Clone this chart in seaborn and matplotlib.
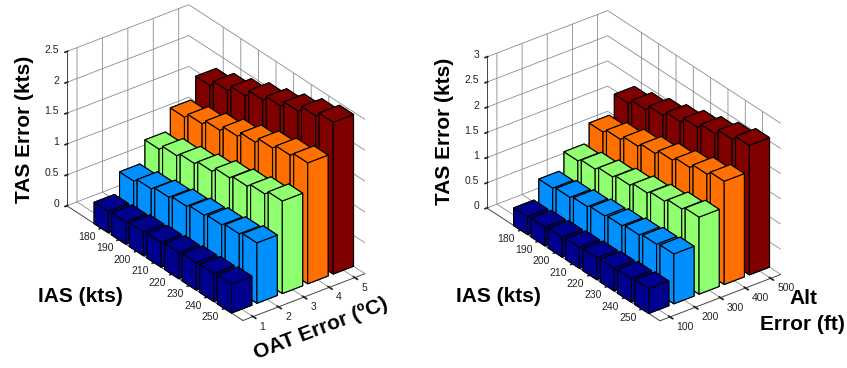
import numpy as np
import matplotlib
matplotlib.use("Agg")
import matplotlib.pyplot as plt
import seaborn as sns

ias_labels = ["180", "190", "200", "210", "220", "230", "240", "250"]
oat_labels = ["1", "2", "3", "4", "5"]
alt_labels = ["100", "200", "300", "400", "500"]

oat_1 = [0.345, 0.36, 0.385, 0.40, 0.42, 0.44, 0.455, 0.47]
oat_2 = [0.68, 0.74, 0.79, 0.83, 0.87, 0.90, 0.94, 0.98]
oat_3 = [1.04, 1.12, 1.18, 1.24, 1.32, 1.37, 1.43, 1.50]
oat_4 = [1.40, 1.48, 1.56, 1.65, 1.74, 1.83, 1.90, 1.96]
oat_5 = [1.755, 1.86, 1.96, 2.08, 2.17, 2.27, 2.38, 2.46]

alt_1 = [0.35, 0.37, 0.39, 0.41, 0.43, 0.45, 0.47, 0.49]
alt_2 = [0.73, 0.77, 0.81, 0.85, 0.88, 0.92, 0.96, 0.99]
alt_3 = [1.08, 1.14, 1.21, 1.27, 1.34, 1.40, 1.47, 1.53]
alt_4 = [1.46, 1.54, 1.63, 1.71, 1.80, 1.88, 1.97, 2.05]
alt_5 = [1.84, 1.94, 2.05, 2.15, 2.26, 2.36, 2.47, 2.57]

level_colors = ["#00008F", "#008FFF", "#8FFF70", "#FF7000", "#800000"]

sns.set_theme(style="white", palette=sns.color_palette(level_colors))
plt.rcParams["font.family"] = ["Liberation Sans", "DejaVu Sans"]
plt.rcParams["grid.color"] = "#8c8c8c"
plt.rcParams["grid.linewidth"] = 0.6
plt.rcParams["axes3d.grid"] = True
plt.rcParams["xtick.color"] = "#222222"
plt.rcParams["ytick.color"] = "#222222"


def panel(fig, rect_px, aspect, rows, ylabels, zmax, zticks, zlabels):
    cx, cy, S = rect_px
    ax = fig.add_axes([(cx - S / 2) / 847, 1 - (cy + S / 2) / 368, S / 847, S / 368],
                      projection="3d", computed_zorder=False)
    ax.set_proj_type("ortho")
    ax.view_init(elev=30, azim=-37.5)
    ax.set_box_aspect(aspect)
    ax.set_xlim(-0.95, 9.05, view_margin=0)
    ax.set_ylim(0.6, 5.4, view_margin=0)
    ax.set_zlim(0, zmax, view_margin=0)
    ax.patch.set_alpha(0)
    for a in (ax.xaxis, ax.yaxis, ax.zaxis):
        a.set_pane_color((1, 1, 1, 0))
        a.pane.set_edgecolor("#777777")
        a.pane.set_linewidth(0.7)
        a.line.set_color("#444444")
        a.line.set_linewidth(0.7)
    for j, row in enumerate(rows):
        for i, h in enumerate(row):
            order = i * 10 + (len(rows) - j) + 10
            ax.bar3d(i + 1 - 0.4, j + 1 - 0.4, 0, 0.8, 0.8, h, color=level_colors[j],
                     shade=False, edgecolor="black", linewidth=0.8, zorder=order)
    ax.set_xticks(range(1, 9), ias_labels, ha="right", va="center")
    ax.set_yticks(range(1, 6), ylabels, ha="left", va="center")
    ax.set_zticks(zticks, zlabels, ha="right", va="center")
    ax.zaxis.set_ticks_position("lower")
    ax.tick_params(labelsize=7.5, labelcolor="#222222")
    ax.tick_params(axis="x", pad=-2)
    ax.tick_params(axis="y", pad=-3)
    ax.tick_params(axis="z", pad=-4.5)
    return ax


fig = plt.figure(figsize=(8.47, 3.68), dpi=100, facecolor="white")
panel(fig, (211, 167.5, 362), (287, 152.6, 176.7), [oat_1, oat_2, oat_3, oat_4, oat_5],
      oat_labels, 2.5, [0, 0.5, 1, 1.5, 2, 2.5], ["0", "0.5", "1", "1.5", "2", "2.5"])
panel(fig, (629, 170.5, 356), (282, 151, 173), [alt_1, alt_2, alt_3, alt_4, alt_5],
      alt_labels, 3, [0, 0.5, 1, 1.5, 2, 2.5, 3], ["0", "0.5", "1", "1.5", "2", "2.5", "3"])

def label(x, y, s, rot=0):
    fig.text(x / 847, 1 - y / 368, s, rotation=rot, ha="center", va="center",
             fontsize=15, fontweight="bold", color="black", rotation_mode="anchor")

label(25, 129, "TAS Error (kts)", 90)
label(80, 297, "IAS (kts)")
label(321, 329, "OAT Error (ºC)", 21)
label(445, 131, "TAS Error (kts)", 90)
label(498, 296, "IAS (kts)")
label(803, 298, "Alt")
label(802, 325, "Error (ft)")

fig.savefig("out.png", dpi=100)
